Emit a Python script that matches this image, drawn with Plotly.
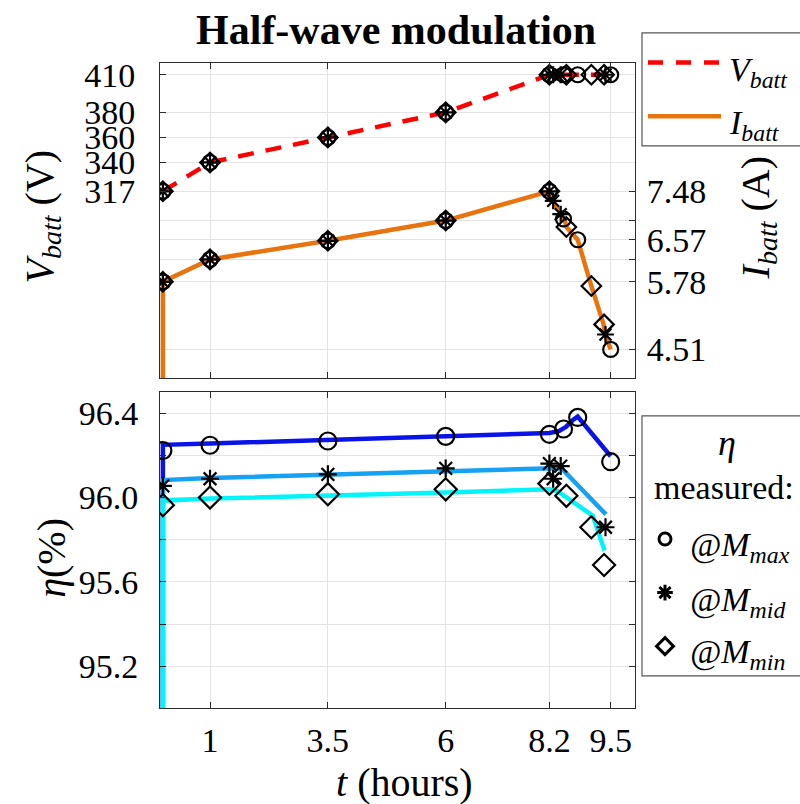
import plotly.graph_objects as go

# ---------------- data ----------------
# battery voltage (top panel, left axis)
v_line_t = [0, 1, 3.5, 6, 8.2, 9.5]
v_line_v = [317, 340, 360, 380, 410, 410]

# battery current (top panel, right axis)
i_line_t = [0, 0, 1, 3.5, 6, 8.2, 8.27, 8.45, 8.52, 8.56, 8.8, 9.09, 9.35, 9.38, 9.5]
i_line_v = [0, 5.78, 6.20, 6.55, 6.93, 7.48, 7.30, 7.05, 6.96, 6.81, 6.57, 5.70, 4.98, 4.79, 4.51]

# measurement instants for each modulation index
t_max = [0, 1, 3.5, 6, 8.2, 8.5, 8.8, 9.5]
t_mid = [0, 1, 3.5, 6, 8.2, 8.28, 8.44, 9.39]
t_min = [0, 1, 3.5, 6, 8.2, 8.56, 9.09, 9.36]

v_max = [317, 340, 360, 380, 410, 410, 410, 410]
v_mid = [317, 340, 360, 380, 410, 410, 410, 410]
v_min = [317, 340, 360, 380, 410, 410, 410, 410]

i_max = [5.78, 6.20, 6.55, 6.93, 7.48, 6.96, 6.57, 4.51]
i_mid = [5.78, 6.20, 6.55, 6.93, 7.48, 7.30, 7.05, 4.79]
i_min = [5.78, 6.20, 6.55, 6.93, 7.48, 6.81, 5.70, 4.98]

# measured efficiency (bottom panel)
eta_max = [96.223, 96.248, 96.268, 96.290, 96.300, 96.325, 96.380, 96.170]
eta_mid = [96.055, 96.089, 96.110, 96.138, 96.161, 96.089, 96.149, 95.859]
eta_min = [95.964, 96.000, 96.016, 96.039, 96.066, 96.008, 95.859, 95.680]

# modelled efficiency curves
mod_max_t = [0, 0, 1, 3.5, 6, 8.2, 8.4, 8.55, 8.7, 8.8, 9.5]
mod_max_v = [94.0, 96.250, 96.256, 96.272, 96.290, 96.306, 96.315, 96.335, 96.368, 96.384, 96.196]
mod_mid_t = [0, 0, 1, 3.5, 6, 8.2, 8.45, 9.4]
mod_mid_v = [94.0, 96.083, 96.093, 96.107, 96.122, 96.137, 96.140, 95.920]
mod_min_t = [0, 0, 1, 3.5, 6, 8.2, 8.37, 9.12, 9.37]
mod_min_v = [94.0, 95.985, 95.995, 96.008, 96.024, 96.039, 96.031, 95.914, 95.749]

x_ticks = [1, 3.5, 6, 8.2, 9.5]
x_ticklabels = ["1", "3.5", "6", "8.2", "9.5"]
v_ticks = [317, 340, 360, 380, 410]
i_ticks = [4.51, 5.78, 6.2, 6.57, 6.93, 7.48]
i_ticklabels = ["4.51", "5.78", "", "6.57", "", "7.48"]
eta_ticks = [95.2, 95.4, 95.6, 95.8, 96.0, 96.2, 96.4]
eta_ticklabels = ["95.2", "", "95.6", "", "96.0", "", "96.4"]

# ---------------- style ----------------
W, H = 800, 804
FONT = "Liberation Serif, Times New Roman, serif"
RED = "#FF0000"
ORANGE = "#E8730F"
BLUE = "#0A14E8"
MIDBLUE = "#16A2F2"
CYAN = "#00F4FA"
GRID = "#E3E3E3"
AXC = "#2b2b2b"


def px(x):
    return x / W


def py(y):
    return 1 - y / H


fig = go.Figure()

mk = dict(color="black", width=2.2)

# ---- top panel ----
fig.add_trace(go.Scatter(x=v_line_t, y=v_line_v, mode="lines",
                         line=dict(color=RED, width=4.5, dash="16px,12px"),
                         xaxis="x", yaxis="y", showlegend=False))
for tt, vv, sym, sz in [(t_max, v_max, "circle-open", 15),
                        (t_mid, v_mid, "asterisk-open", 14),
                        (t_min, v_min, "diamond-open", 15)]:
    fig.add_trace(go.Scatter(x=tt, y=vv, mode="markers",
                             marker=dict(symbol=sym, size=sz, color="black", line=mk),
                             xaxis="x", yaxis="y", showlegend=False))

fig.add_trace(go.Scatter(x=i_line_t, y=i_line_v, mode="lines",
                         line=dict(color=ORANGE, width=4.5),
                         xaxis="x", yaxis="y2", showlegend=False))
for tt, vv, sym, sz in [(t_max, i_max, "circle-open", 15),
                        (t_mid, i_mid, "asterisk-open", 14),
                        (t_min, i_min, "diamond-open", 15)]:
    fig.add_trace(go.Scatter(x=tt, y=vv, mode="markers",
                             marker=dict(symbol=sym, size=sz, color="black", line=mk),
                             xaxis="x", yaxis="y2", showlegend=False))

# ---- bottom panel ----
for tt, vv, col in [(mod_max_t, mod_max_v, BLUE),
                    (mod_mid_t, mod_mid_v, MIDBLUE),
                    (mod_min_t, mod_min_v, CYAN)]:
    fig.add_trace(go.Scatter(x=tt, y=vv, mode="lines", line=dict(color=col, width=4.5),
                             xaxis="x2", yaxis="y3", showlegend=False))
for tt, vv, sym, sz in [(t_max, eta_max, "circle-open", 17),
                        (t_mid, eta_mid, "asterisk-open", 15),
                        (t_min, eta_min, "diamond-open", 17)]:
    fig.add_trace(go.Scatter(x=tt, y=vv, mode="markers",
                             marker=dict(symbol=sym, size=sz, color="black", line=mk),
                             xaxis="x2", yaxis="y3", showlegend=False))

# ---- legend markers (auxiliary hidden axes) ----
fig.add_trace(go.Scatter(x=[0.5, 0.5, 0.5], y=[3, 2, 1], mode="markers",
                         marker=dict(symbol=["circle-open", "asterisk-open", "diamond-open"],
                                     size=[12, 13, 13], color="black", opacity=1,
                                     line=dict(color="black", width=3)),
                         xaxis="x3", yaxis="y4", showlegend=False, cliponaxis=False,
                         hoverinfo="skip"))

tickfont = dict(family=FONT, size=34, color="black")
xd = [px(160), px(635)]
top_dom = [py(375), py(57.3)]
bot_dom = [py(707.7), py(389)]

common_x = dict(range=[-0.061, 10.016], tickvals=x_ticks, ticktext=x_ticklabels,
                showgrid=True, gridcolor=GRID, gridwidth=1, zeroline=False,
                showline=True, linecolor=AXC, linewidth=1, mirror="ticks",
                ticks="inside", ticklen=6, tickcolor=AXC, tickfont=tickfont)

fig.update_layout(
    width=W, height=H, margin=dict(l=0, r=0, t=0, b=0),
    paper_bgcolor="white", plot_bgcolor="white",
    xaxis=dict(domain=xd, anchor="y", showticklabels=False, **common_x),
    xaxis2=dict(domain=xd, anchor="y3", showticklabels=True, ticklabelstandoff=2, **common_x),
    yaxis=dict(domain=top_dom, anchor="x", range=[167.8, 419.5], tickvals=v_ticks,
               showgrid=True, gridcolor=GRID, zeroline=False,
               showline=True, linecolor=AXC, linewidth=1, mirror=False,
               ticks="inside", ticklen=6, tickcolor=AXC, tickfont=tickfont,
               ticklabelstandoff=17),
    yaxis2=dict(overlaying="y", side="right", anchor="x", range=[3.969, 9.892],
                tickvals=i_ticks, ticktext=i_ticklabels,
                showgrid=True, gridcolor=GRID, zeroline=False,
                showline=True, linecolor=AXC, linewidth=1,
                ticks="inside", ticklen=6, tickcolor=AXC, tickfont=tickfont,
                ticklabelstandoff=4),
    yaxis3=dict(domain=bot_dom, anchor="x2", range=[95.0, 96.5], tickvals=eta_ticks,
                ticktext=eta_ticklabels,
                showgrid=True, gridcolor=GRID, zeroline=False,
                showline=True, linecolor=AXC, linewidth=1, mirror="ticks",
                ticks="inside", ticklen=6, tickcolor=AXC, tickfont=tickfont,
                ticklabelstandoff=14),
    xaxis3=dict(domain=[px(645), px(685)], anchor="y4", range=[0, 1], visible=False),
    yaxis4=dict(domain=[py(645 + 27), py(537 - 27)], anchor="x3", range=[0.5, 3.5],
                visible=False),
)

ann = []


def A(text, x, y, size, xanchor="center", yanchor="middle", angle=0):
    ann.append(dict(text=text, x=px(x), y=py(y), xref="paper", yref="paper",
                    showarrow=False, xanchor=xanchor, yanchor=yanchor, textangle=angle,
                    font=dict(family=FONT, size=size, color="black")))


A("<b>Half-wave modulation</b>", 396, 24, 42)
A("<i>V</i><sub><i>batt</i></sub> (V)", 42, 212, 40, angle=-90)
A("<i>I</i><sub><i>batt</i></sub> (A)", 758, 214, 40, angle=-90)
A("<i>η</i>(%)", 52, 556, 40, angle=-90)
A("<i>t</i> (hours)", 404, 782, 40)

# legend 1
A("<i>V</i><sub><i>batt</i></sub>", 727, 66, 34, xanchor="left")
A("<i>I</i><sub><i>batt</i></sub>", 727, 120, 34, xanchor="left")
# legend 2
A("<i>η</i>", 727, 440, 36)
A("measured:", 724, 485, 34)
A("<i>@M</i><sub><i>max</i></sub>", 688, 545, 34, xanchor="left")
A("<i>@M</i><sub><i>mid</i></sub>", 688, 600, 34, xanchor="left")
A("<i>@M</i><sub><i>min</i></sub>", 688, 653, 34, xanchor="left")

shapes = [
    dict(type="rect", xref="paper", yref="paper", x0=px(642), x1=px(815), y0=py(141), y1=py(27),
         line=dict(color="#555555", width=1.2), fillcolor="rgba(0,0,0,0)"),
    dict(type="line", xref="paper", yref="paper", x0=px(648), x1=px(721), y0=py(57), y1=py(57),
         line=dict(color=RED, width=4.5, dash="15px,13px")),
    dict(type="line", xref="paper", yref="paper", x0=px(648), x1=px(721), y0=py(111), y1=py(111),
         line=dict(color=ORANGE, width=4.5)),
    dict(type="rect", xref="paper", yref="paper", x0=px(642), x1=px(815), y0=py(675), y1=py(413),
         line=dict(color="#555555", width=1.2), fillcolor="rgba(0,0,0,0)"),
]

fig.update_layout(annotations=ann, shapes=shapes)

fig.write_html("out.html")
